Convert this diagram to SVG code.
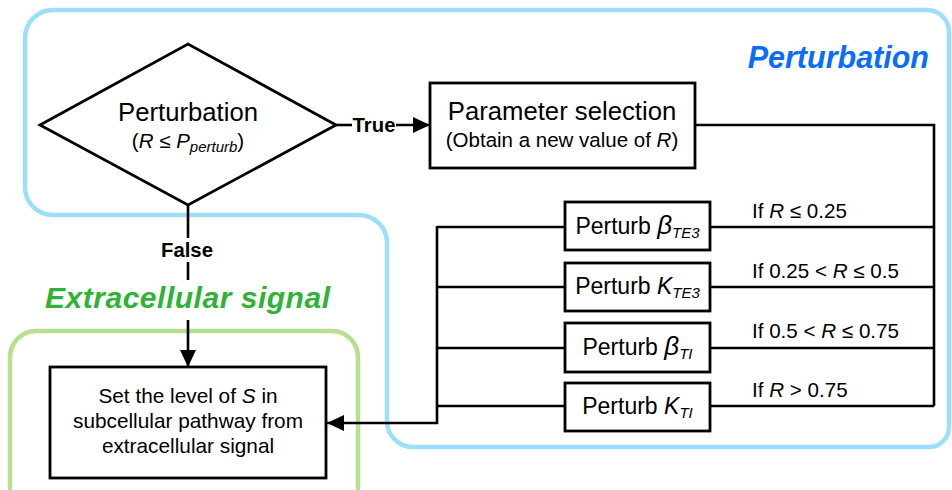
<svg xmlns="http://www.w3.org/2000/svg" width="952" height="490" viewBox="0 0 952 490">
  <style>
    text { font-family: "Liberation Sans", Arial, sans-serif; fill: #000; }
    .box { fill: #fff; stroke: #000; stroke-width: 2.8; }
    .wire { fill: none; stroke: #000; stroke-width: 2.6; }
    .zone-blue { fill: none; stroke: #9bdffb; stroke-width: 4.5; }
    .zone-green { fill: none; stroke: #b7df8d; stroke-width: 4.5; }
    .big { font-size: 25.7px; }
    .mid { font-size: 20.5px; }
    .lbl { font-size: 20.3px; font-weight: bold; }
    .pert { font-size: 23px; }
    .greek { font-size: 26px; font-style: italic; }
    .cond { font-size: 20.6px; }
    .sub { font-size: 15px; font-style: italic; }
    .it { font-style: italic; }
  </style>
  <defs>
    <marker id="arrow" markerWidth="18" markerHeight="16" refX="17" refY="8" orient="auto" markerUnits="userSpaceOnUse">
      <path d="M0,0 L17,8 L0,16 Z" fill="#000"/>
    </marker>
  </defs>

  <!-- region outlines -->
  <g id="zone-perturbation">
    <path class="zone-blue" d="M53,10 H927 A22,22 0 0 1 949,32 V427 A20,20 0 0 1 929,447 H413 A26,26 0 0 1 387,421 V243 A28,28 0 0 0 359,215 H53 A28,28 0 0 1 25,187 V38 A28,28 0 0 1 53,10 Z"/>
    <text x="929" y="68" text-anchor="end" font-size="30.5" font-weight="bold" font-style="italic" style="fill:#0a6cff">Perturbation</text>
  </g>
  <g id="zone-extracellular">
    <rect class="zone-green" x="10" y="331" width="348" height="190" rx="26" ry="26"/>
    <text x="187.5" y="308" text-anchor="middle" font-size="30" font-weight="bold" font-style="italic" textLength="285" style="fill:#2fb236">Extracellular signal</text>
  </g>

  <!-- connectors -->
  <g id="connectors">
    <line class="wire" x1="336" y1="125" x2="352" y2="125"/>
    <line class="wire" x1="396" y1="125" x2="430" y2="125" marker-end="url(#arrow)"/>
    <polyline class="wire" points="695,125 934,125 934,406"/>
    <line class="wire" x1="710" y1="227" x2="934" y2="227"/>
    <line class="wire" x1="710" y1="287" x2="934" y2="287"/>
    <line class="wire" x1="710" y1="348" x2="934" y2="348"/>
    <line class="wire" x1="710" y1="406" x2="934" y2="406"/>
    <line class="wire" x1="437" y1="227" x2="565" y2="227"/>
    <line class="wire" x1="437" y1="287" x2="565" y2="287"/>
    <line class="wire" x1="437" y1="348" x2="565" y2="348"/>
    <line class="wire" x1="437" y1="406" x2="565" y2="406"/>
    <polyline class="wire" points="437,226 437,423 327,423" marker-end="url(#arrow)"/>
    <line class="wire" x1="188" y1="205" x2="188" y2="238"/>
    <line class="wire" x1="188" y1="262" x2="188" y2="280"/>
    <line class="wire" x1="188" y1="320" x2="188" y2="367" marker-end="url(#arrow)"/>
    <text class="lbl" x="374" y="132" text-anchor="middle">True</text>
    <text class="lbl" x="187" y="257" text-anchor="middle">False</text>
    <text class="cond" x="752" y="218">If <tspan class="it">R</tspan> ≤ 0.25</text>
    <text class="cond" x="752" y="278">If 0.25 &lt; <tspan class="it">R</tspan> ≤ 0.5</text>
    <text class="cond" x="752" y="338">If 0.5 &lt; <tspan class="it">R</tspan> ≤ 0.75</text>
    <text class="cond" x="752" y="397">If <tspan class="it">R</tspan> &gt; 0.75</text>
  </g>

  <!-- decision -->
  <g id="decision">
    <polygon points="40,125 188,44 336,125 188,205" fill="#fff" stroke="#000" stroke-width="2.8"/>
    <text class="big" x="188" y="121" text-anchor="middle">Perturbation</text>
    <text class="mid" x="188" y="148" text-anchor="middle">(<tspan class="it">R</tspan> ≤ <tspan class="it">P</tspan><tspan class="sub" dy="4">perturb</tspan><tspan dy="-4">)</tspan></text>
  </g>

  <!-- parameter selection -->
  <g id="parameter-selection">
    <rect class="box" x="430" y="83" width="265" height="85"/>
    <text class="big" x="562" y="120" text-anchor="middle">Parameter selection</text>
    <text class="mid" x="562" y="147" text-anchor="middle">(Obtain a new value of <tspan class="it">R</tspan>)</text>
  </g>

  <!-- perturbation options -->
  <g id="perturb-beta-te3">
    <rect class="box" x="565" y="202" width="145" height="48"/>
    <text class="pert" x="637.5" y="234" text-anchor="middle">Perturb <tspan class="greek">β</tspan><tspan class="sub" dy="4">TE3</tspan></text>
  </g>
  <g id="perturb-k-te3">
    <rect class="box" x="565" y="263" width="145" height="48"/>
    <text class="pert" x="637.5" y="294" text-anchor="middle">Perturb <tspan class="it">K</tspan><tspan class="sub" dy="4">TE3</tspan></text>
  </g>
  <g id="perturb-beta-ti">
    <rect class="box" x="565" y="323" width="145" height="49"/>
    <text class="pert" x="637.5" y="355" text-anchor="middle">Perturb <tspan class="greek">β</tspan><tspan class="sub" dy="4">TI</tspan></text>
  </g>
  <g id="perturb-k-ti">
    <rect class="box" x="565" y="383" width="145" height="48"/>
    <text class="pert" x="637.5" y="414" text-anchor="middle">Perturb <tspan class="it">K</tspan><tspan class="sub" dy="4">TI</tspan></text>
  </g>

  <!-- signal setting -->
  <g id="set-signal">
    <rect class="box" x="50" y="367" width="276" height="111"/>
    <text x="188" y="403" text-anchor="middle" font-size="20.8">Set the level of <tspan class="it">S</tspan> in</text>
    <text x="188" y="428" text-anchor="middle" font-size="20.8">subcellular pathway from</text>
    <text x="188" y="453" text-anchor="middle" font-size="20.8">extracellular signal</text>
  </g>
</svg>
